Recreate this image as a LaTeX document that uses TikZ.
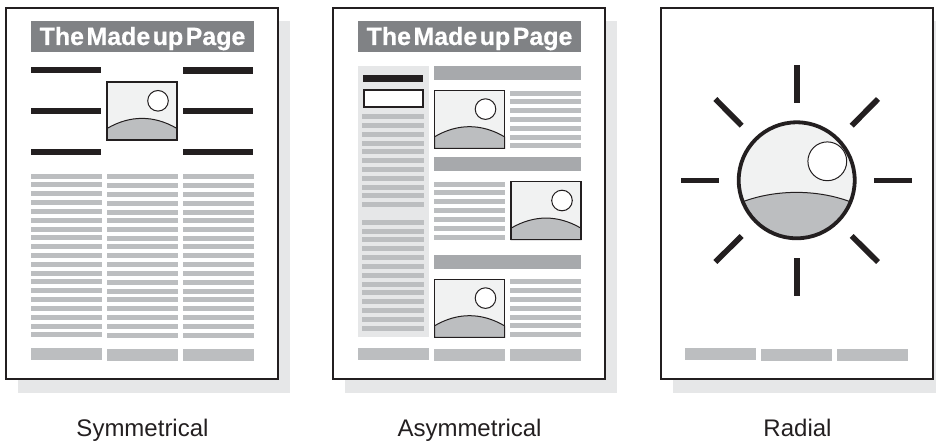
\documentclass[tikz,border=0pt]{standalone}
\usepackage{fontspec}
\setmainfont[BoldFeatures={FakeBold=0.5}]{Liberation Sans}
\definecolor{ink}{HTML}{231F20}
\definecolor{backing}{HTML}{E6E7E8}
\definecolor{pale}{HTML}{F1F2F2}
\definecolor{rule}{HTML}{BCBEC0}
\definecolor{band}{HTML}{A7A9AC}
\definecolor{banner}{HTML}{808285}

\begin{document}
\begin{tikzpicture}[x=1pt,y=-1pt,
  pageframe/.style={draw=ink,fill=white,line width=1.2pt},
  banner/.style={fill=banner,text=white,inner sep=0pt,minimum width=223pt,text height=24pt,text depth=7pt,
    font=\fontsize{25}{25}\bfseries\selectfont\spaceskip 2.4pt\relax},
  caption/.style={anchor=base,text=ink,font=\fontsize{24}{24}\selectfont},
  textline/.style={fill=rule},
  heavy/.style={fill=ink},
  head/.style={fill=band},
  ray/.style={draw=ink,line width=5.6pt}]
\clip (0,0) rectangle (936,444);

% pages
\foreach \x in {6,333,661} {
  \fill[backing] (\x+12,21) rectangle +(272,372);
  \draw[pageframe] (\x,8) rectangle +(272,371);
}

\node[banner] at (142.5,36.5) (title1) {The Made up Page};
\node[banner] at (469.5,36.5) (title2) {The Made up Page};
\node[caption] at (142.5,436.7) (sym) {Symmetrical};
\node[caption] at (469.5,436.7) (asym) {Asymmetrical};
\node[caption] at (797.5,436.7) (rad) {Radial};

% symmetrical page
\foreach \y in {66.5,107.7,149} \fill[heavy] (31,\y) rectangle +(70,6.3);
\foreach \y in {67.3,107.7,149} \fill[heavy] (183,\y) rectangle +(70,6.3);
\foreach \y in {174,182,191,200,209,218,227,235,244,253,262,271,279,288,297,306,315,324,332}
  \fill[textline] (31,\y) rectangle +(71,5);
\foreach \y in {174,183,192,201,210,218,227,236,244,253,262,271,280,289,297,306,315,324,333} {
  \fill[textline] (107,\y) rectangle +(71,5);
  \fill[textline] (183,\y) rectangle +(71,5);
}

% asymmetrical page
\fill[backing] (358,66) rectangle (429,337);
\fill[heavy] (363.3,75.3) rectangle (423,81.6);
\draw[ink,line width=1.2pt,fill=white] (364,90) rectangle (423,107);
\foreach \y in {114,123,132,141,149,158,167,176,185,193,202,220,229,237,246,255,264,273,282,290,299,308,317,326}
  \fill[textline] (362,\y) rectangle +(62,5);
\foreach \y in {66,157,255} \fill[head] (434,\y) rectangle +(147,14);
\foreach \y in {91,99,108,117,126,135,143,279,288,297,306,315,323,332}
  \fill[textline] (510,\y) rectangle +(71,5);
\foreach \y in {182,190,199,208,217,226,235}
  \fill[textline] (434,\y) rectangle +(71,5);

% pictures
\foreach \x/\y in {107/82,434.5/90.3,511/181.7,434.5/279.3} {
  \begin{scope}[shift={(\x,\y)}]
    \fill[pale] (0,0) rectangle (70,58);
    \draw[ink,fill=rule,line width=1pt] (0,46.5) .. controls (23,33) and (47,33) .. (70,46.5) -- (70,58) -- (0,58) -- cycle;
    \draw[ink,fill=white,line width=1pt] (51,18.8) circle (10.3);
    \draw[ink,line width=1.2pt] (0,0) rectangle (70,58);
  \end{scope}
}

% radial page
\begin{scope}
  \clip (796.7,180.3) circle (58);
  \fill[pale] (730,115) rectangle (865,245);
  \draw[ink,fill=rule,line width=1pt] (720,213) .. controls (763,185.5) and (830,185.5) .. (873,213) -- (873,245) -- (720,245) -- cycle;
  \draw[ink,fill=white,line width=1pt] (827.3,161.3) circle (19.4);
\end{scope}
\draw[ink,line width=3.8pt] (796.7,180.3) circle (58);
\draw[ray] (796.7,65) -- (796.7,103.3);
\draw[ray] (796.7,258) -- (796.7,296);
\draw[ray] (681,180.3) -- (719.3,180.3);
\draw[ray] (874,180.3) -- (912,180.3);
\draw[ray] (715.3,99) -- (741.7,125.7);
\draw[ray] (878,99) -- (851.7,125.7);
\draw[ray] (715.3,262) -- (741.7,236);
\draw[ray] (878,262) -- (851.7,236);

% footers
\foreach \x in {31,358,685} {
  \fill[textline] (\x,348) rectangle +(71,12);
  \fill[textline] (\x+76,349) rectangle +(71,12);
  \fill[textline] (\x+152,349) rectangle +(71,12);
}
\end{tikzpicture}
\end{document}
